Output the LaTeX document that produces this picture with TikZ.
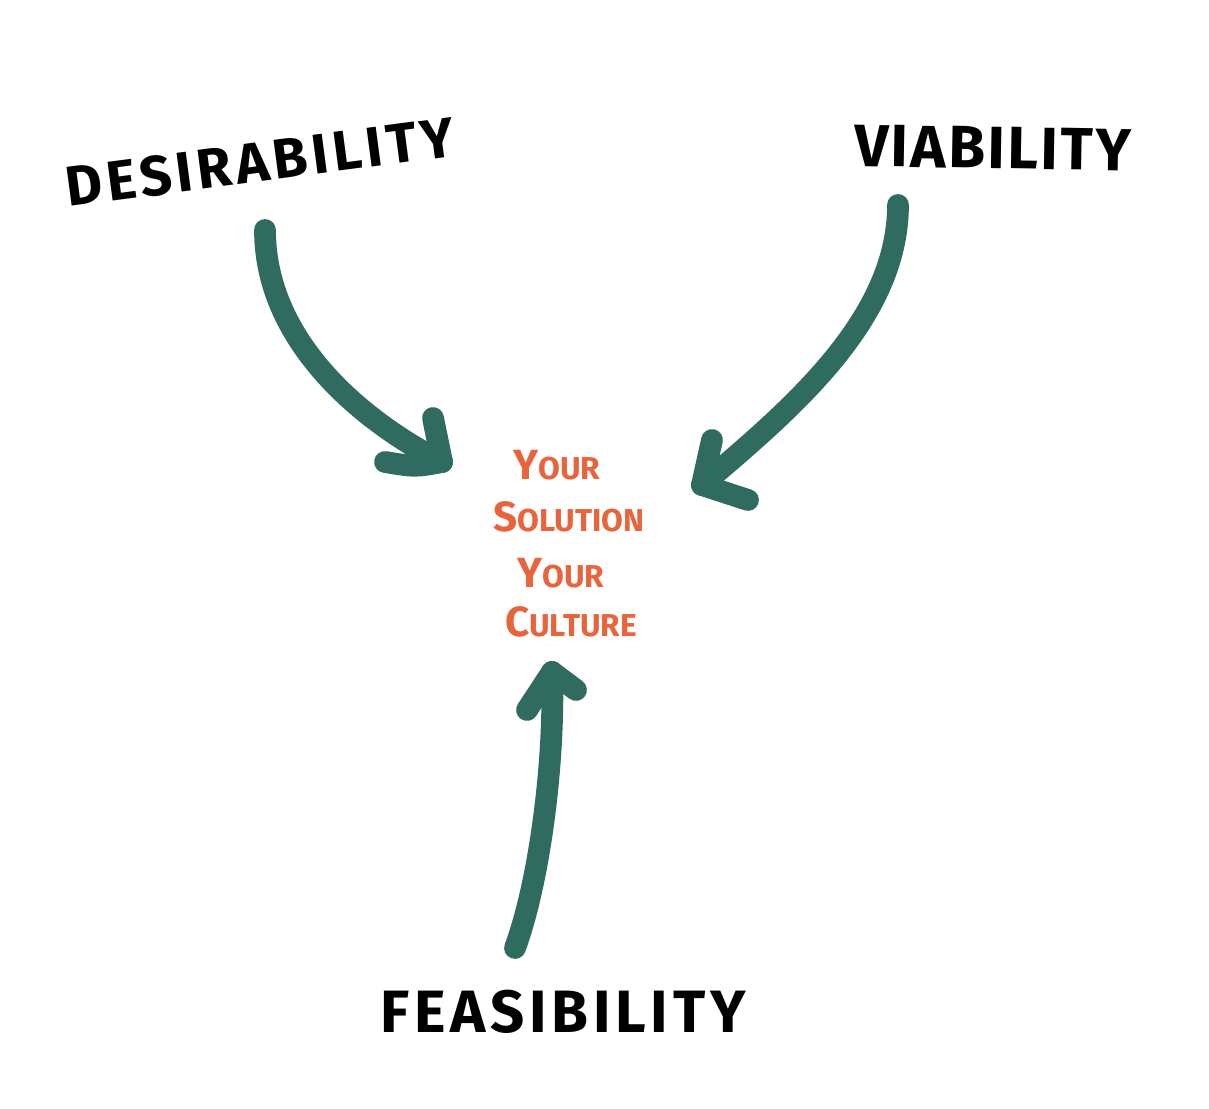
\documentclass[tikz,border=0pt]{standalone}
\usepackage{fontspec}
\setmainfont{Fira Sans}
\newfontfamily\handfont[LetterSpace=8]{Fira Sans}
\newfontfamily\tighthand[LetterSpace=4]{Fira Sans}
\usepackage{xcolor}
\usepackage{tikz}
\definecolor{arrowgreen}{HTML}{2F6B5F}
\definecolor{cultorange}{HTML}{E8643C}
\tikzset{
    arrowline/.style={line width=6.2pt, arrowgreen, line cap=round, line join=round},
    pillar/.style={font=\handfont\bfseries\fontsize{17}{20}\selectfont, text=black, inner sep=0pt},
    centre/.style={font=\bfseries\fontsize{9}{11}\selectfont, text=cultorange, inner sep=0pt}
}
\newcommand{\firstcap}[2]{{\fontsize{12}{14}\selectfont #1}#2}

\begin{document}
\begin{tikzpicture}
    \useasboundingbox (0,0) rectangle (12.09,11.09);
    % the three labels
    \node[pillar, font=\handfont\bfseries\fontsize{16}{19}\selectfont, rotate=7.5] (desire) at (2.60,9.47) {DESIRABILITY};
    \node[pillar, font=\tighthand\bfseries\fontsize{17}{20}\selectfont, rotate=-1] (viable) at (9.93,9.61) {VIABILITY};
    \node[pillar] (feasible) at (5.63,0.97) {FEASIBILITY};
    % centre text
    \node[centre] (your1) at (5.57,6.44) {\firstcap{Y}{OUR}};
    \node[centre] (solution) at (5.69,5.92) {\firstcap{S}{OLUTION}};
    \node[centre] (your2) at (5.61,5.36) {\firstcap{Y}{OUR}};
    \node[centre] (culture) at (5.71,4.87) {\firstcap{C}{ULTURE}};
    % arrow ends
    \coordinate (dstart) at (2.65,8.79);
    \coordinate (dtip) at (4.42,6.47);
    \coordinate (vstart) at (8.98,9.04);
    \coordinate (vtip) at (7.02,6.24);
    \coordinate (fstart) at (5.15,1.61);
    \coordinate (ftip) at (5.52,4.37);
    % desirability arrow
    \draw[arrowline] (dstart) .. controls (2.65,7.69) and (3.60,6.89) .. (dtip);
    \draw[arrowline] (dtip) -- (4.33,6.91);
    \draw[arrowline] (dtip) .. controls (4.15,6.42) .. (3.85,6.47);
    % viability arrow
    \draw[arrowline] (vstart) .. controls (8.98,7.89) and (7.90,6.99) .. (vtip);
    \draw[arrowline] (vtip) -- (7.12,6.69);
    \draw[arrowline] (vtip) -- (7.48,6.09);
    % feasibility arrow
    \draw[arrowline] (fstart) .. controls (5.40,2.29) and (5.55,3.49) .. (ftip);
    \draw[arrowline] (ftip) -- (5.27,3.99);
    \draw[arrowline] (ftip) -- (5.76,4.19);
\end{tikzpicture}
\end{document}
